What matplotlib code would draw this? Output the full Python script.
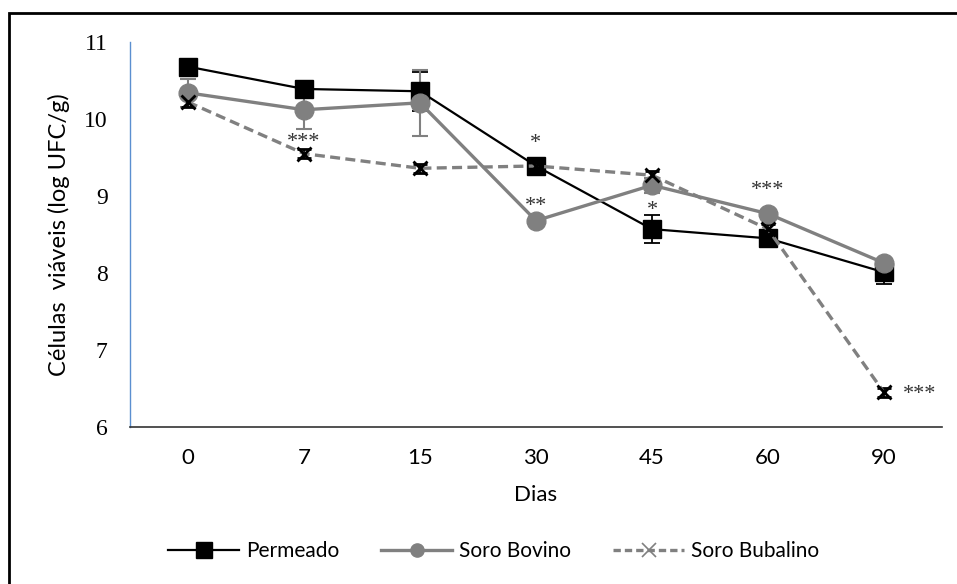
import matplotlib.pyplot as plt
from matplotlib.patches import Rectangle
from matplotlib.lines import Line2D
import numpy as np

# Days (categorical)
dias = ["0", "7", "15", "30", "45", "60", "90"]

# log UFC/g
permeado = [10.68, 10.39, 10.36, 9.39, 8.57, 8.45, 8.01]
permeado_err = [0.05, 0.05, 0.25, 0.05, 0.18, 0.05, 0.15]
soro_bovino = [10.34, 10.12, 10.21, 8.68, 9.14, 8.77, 8.13]
soro_bovino_err = [0.18, 0.25, 0.43, 0.03, 0.10, 0.05, 0.05]
soro_bubalino = [10.22, 9.55, 9.36, 9.39, 9.27, 8.57, 6.45]
soro_bubalino_err = [0.06, 0.06, 0.06, 0.06, 0.06, 0.06, 0.06]

# significance labels: (category index, y value, text)
sig_labels = [(1, 9.70, "***"), (3, 9.68, "*"), (3, 8.86, "**"),
              (4, 8.81, "*"), (5, 9.07, "***"), (6, 6.42, "***")]

sans = "Lato"
serif = "Liberation Serif"

fig = plt.figure(figsize=(9.57, 5.84), dpi=100)
ax = fig.add_axes([0.1358, 0.2688, 0.8485, 0.6593])

x = np.arange(len(dias))

ax.errorbar(x, permeado, yerr=permeado_err, color="black", lw=1.6,
            marker="s", ms=13, mfc="black", mec="black",
            ecolor="black", elinewidth=1.3, capsize=6, capthick=1.3)
ax.errorbar(x, soro_bovino, yerr=soro_bovino_err, color="#808080", lw=2.4,
            marker="o", ms=13.5, mfc="#808080", mec="#808080",
            ecolor="#808080", elinewidth=1.5, capsize=6, capthick=1.5)
ax.errorbar(x, soro_bubalino, yerr=soro_bubalino_err, color="#808080", lw=2.4,
            ls=(0, (3, 1.6)), marker="x", ms=10, mfc="black", mec="black",
            mew=2, ecolor="black", elinewidth=1.3, capsize=5, capthick=1.3)

for i, yv, txt in sig_labels:
    if i == 6:
        ax.text(i + 0.16, yv, txt, ha="left", va="center", fontsize=16,
                family=serif, color="#333333")
    else:
        ax.text(i, yv, txt, ha="center", va="center", fontsize=16,
                family=serif, color="#333333")

ax.set_xlim(-0.5, 6.5)
ax.set_ylim(6, 11)
ax.set_xticks(x)
ax.set_xticklabels(dias, family=sans, fontsize=16)
ax.set_yticks([6, 7, 8, 9, 10, 11])
ax.set_yticklabels(["6", "7", "8", "9", "10", "11"], family=serif, fontsize=17)
ax.tick_params(axis="both", length=0)
ax.tick_params(axis="x", pad=15)
ax.tick_params(axis="y", pad=16)

ax.spines["top"].set_visible(False)
ax.spines["right"].set_visible(False)
ax.spines["left"].set_color("#5B8FD0")
ax.spines["left"].set_linewidth(1.0)
ax.spines["bottom"].set_color("#333333")
ax.spines["bottom"].set_linewidth(1.2)

ax.set_xlabel("Dias", family=sans, fontsize=16, labelpad=12)
ax.set_ylabel("Células  viáveis (log UFC/g)", family=sans, fontsize=17, labelpad=10)

# legend handles drawn like the original (small markers, no error bars)
handles = [
    Line2D([], [], color="black", lw=1.6, marker="s", ms=11, mfc="black", mec="black"),
    Line2D([], [], color="#808080", lw=2.4, marker="o", ms=9.5, mfc="#808080", mec="#808080"),
    Line2D([], [], color="#808080", lw=2.4, ls=(0, (2.2, 1.2)), marker="x", ms=10,
           mec="#808080", mew=1.2),
]
labels = ["Permeado", "Soro Bovino", "Soro Bubalino"]
fig.legend(handles, labels, loc="center", bbox_to_anchor=(0.516, 0.0565),
           ncol=3, frameon=False, handlelength=3.4, handletextpad=0.35,
           columnspacing=2.0, prop={"family": sans, "size": 15})

# outer frame of the figure
fig.patches.append(Rectangle((9 / 957, -0.05), 1.1, 1 - 13 / 584 + 0.05,
                             transform=fig.transFigure, fill=False,
                             edgecolor="black", lw=2))

fig.savefig("out.png", dpi=100)
